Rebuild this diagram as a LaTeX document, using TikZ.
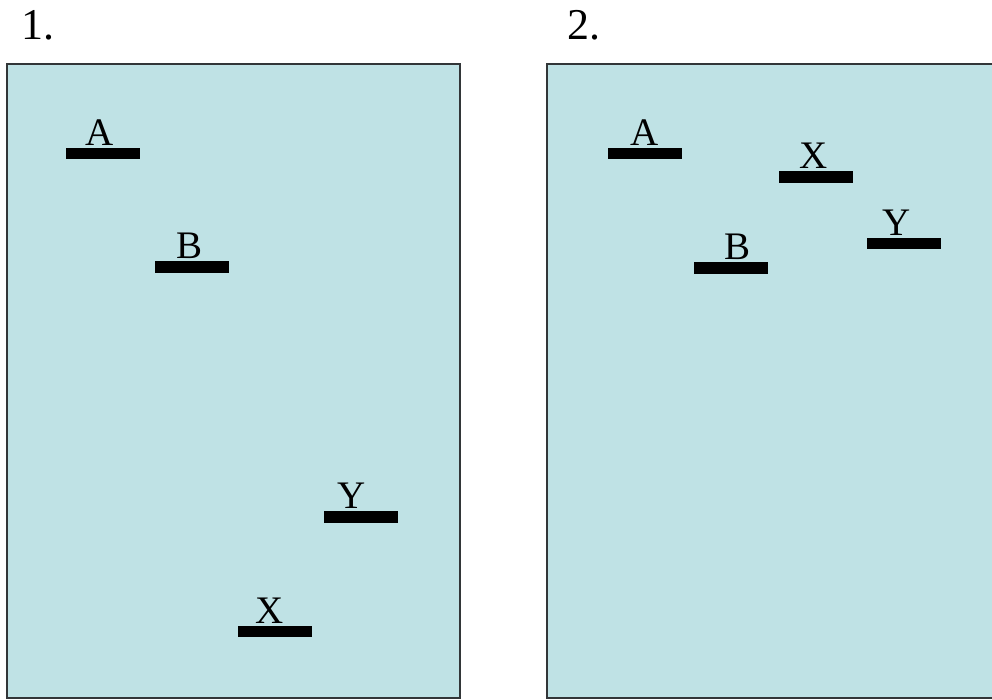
\documentclass[tikz,border=0pt]{standalone}
\usepackage{fontspec}
\setmainfont{Liberation Serif}
\usepackage{tikz}
\usetikzlibrary{positioning}
\definecolor{panel}{RGB}{191, 226, 229}
\definecolor{frame}{RGB}{50, 54, 56}
\tikzset{
	panelbox/.style={draw=frame, fill=panel, line width=2pt},
	band/.style={fill=black, inner sep=0pt, minimum width=74pt, minimum height=11.5pt},
	bandlbl/.style={inner sep=0pt, font=\fontsize{39}{39}\selectfont},
	numlbl/.style={inner sep=0pt, anchor=base west, font=\fontsize{44}{44}\selectfont}
}
\newcommand{\bandat}[5][0pt]{% [label xshift]{name}{x}{y}{label}
	\node[band] (#2) at (#3,#4) {}; % band
	\node[bandlbl, above=2pt of #2, xshift=#1] (#2-lbl) {#5} % label
}
\begin{document}
\begin{tikzpicture}[x=1pt, y=-1pt]
	\useasboundingbox (0,0) rectangle (992,700);
	\clip (0,0) rectangle (992,700);
	% panels
	\draw[panelbox] (7,64) rectangle (460,698);
	\draw[panelbox] (547,64) rectangle (1004,698);
	\node[numlbl] (one) at (21,40) {1.};
	\node[numlbl] (two) at (567,40) {2.};

	% panel 1
	\bandat[-3pt]{A1}{102.5}{153.5}{A};
	\bandat[-2pt]{B1}{192}{267}{B};
	\bandat[-9pt]{Y1}{361}{517}{Y};
	\bandat[-4.5pt]{X1}{274.5}{631.5}{X};

	% panel 2
	\bandat{A2}{644.5}{153.5}{A};
	\bandat[-2.5pt]{X2}{816}{177}{X};
	\bandat[-7.5pt]{Y2}{904}{243.5}{Y};
	\bandat[7pt]{B2}{730.5}{268}{B};
\end{tikzpicture}
\end{document}
